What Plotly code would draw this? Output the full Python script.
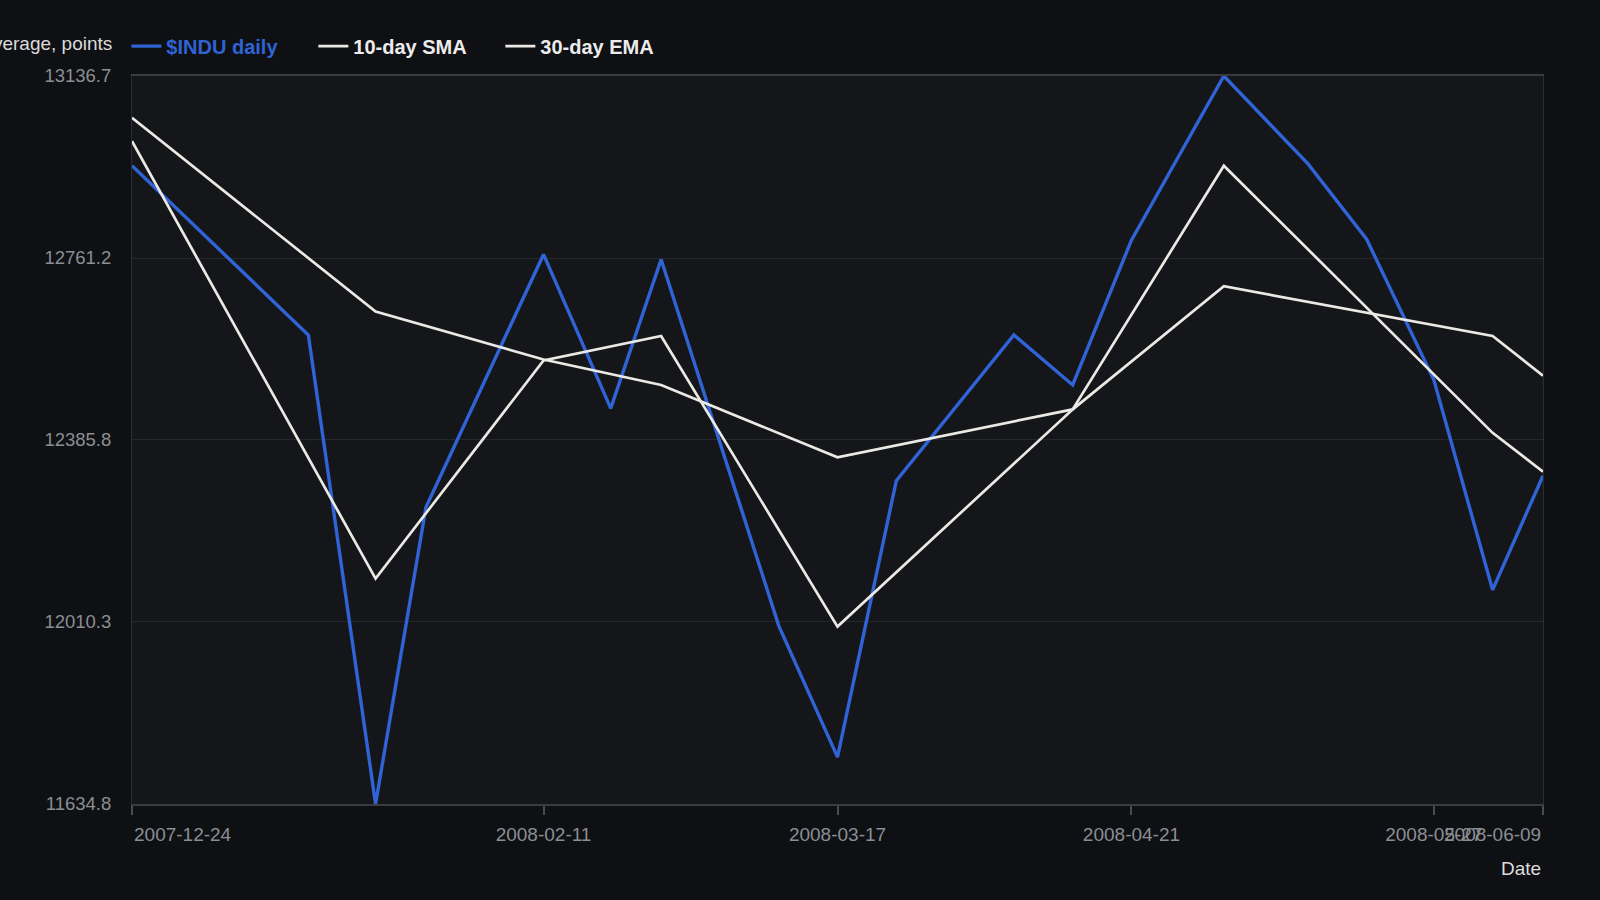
import plotly.graph_objects as go

# weekly-ish closes of the Dow
dates_daily = ["2007-12-24", "2008-01-14", "2008-01-22", "2008-01-28", "2008-02-11",
               "2008-02-19", "2008-02-25", "2008-03-10", "2008-03-17", "2008-03-24",
               "2008-04-07", "2008-04-14", "2008-04-21", "2008-05-02", "2008-05-12",
               "2008-05-19", "2008-05-27", "2008-06-03", "2008-06-09"]
indu_daily = [12951.6, 12602.4, 11634.8, 12246.9, 12768.6,
              12451.0, 12758.1, 12002.9, 11731.6, 12301.6,
              12602.4, 12499.3, 12798.0, 13136.7, 12955.8,
              12800.1, 12509.8, 12076.5, 12312.1]

# moving averages, sampled on fewer dates
dates_avg = ["2007-12-24", "2008-01-22", "2008-02-11", "2008-02-25", "2008-03-17",
             "2008-04-14", "2008-05-02", "2008-06-03", "2008-06-09"]
sma_10 = [13002.1, 12099.7, 12549.8, 12600.3, 12000.8, 12448.9, 12951.6, 12400.5, 12320.5]
ema_30 = [13050.4, 12650.8, 12551.9, 12499.3, 12350.0, 12448.9, 12703.0, 12600.3, 12518.3]

y_ticks = [11634.8, 12010.3, 12385.8, 12761.2, 13136.7]
x_ticks = ["2007-12-24", "2008-02-11", "2008-03-17", "2008-04-21", "2008-05-27", "2008-06-09"]

BLUE = "#2f63d6"
WHITE = "#ebe9e3"
FONT = "Liberation Sans"
TICK_GREY = "#8b8e94"

fig = go.Figure()
fig.add_trace(go.Scatter(x=dates_daily, y=indu_daily, mode="lines",
                         name="<span style='color:%s'><b>$INDU daily</b></span>" % BLUE,
                         line=dict(color=BLUE, width=3.4)))
fig.add_trace(go.Scatter(x=dates_avg, y=sma_10, mode="lines", name="<b>10-day SMA</b>",
                         line=dict(color=WHITE, width=2.7)))
fig.add_trace(go.Scatter(x=dates_avg, y=ema_30, mode="lines", name="<b>30-day EMA</b>",
                         line=dict(color=WHITE, width=2.7)))

# end labels are nudged inside the plot, middle ones come from the axis
tick_text = [""] + x_ticks[1:-1] + [""]
annos = [
    dict(x=x_ticks[0], xref="x", y=0, yref="paper", yanchor="middle", yshift=-30,
         xanchor="left", text=x_ticks[0], showarrow=False,
         font=dict(family=FONT, size=19, color=TICK_GREY)),
    dict(x=x_ticks[-1], xref="x", y=0, yref="paper", yanchor="middle", yshift=-30,
         xanchor="right", text=x_ticks[-1], showarrow=False,
         font=dict(family=FONT, size=19, color=TICK_GREY)),
    dict(x=x_ticks[-1], xref="x", y=0, yref="paper", yanchor="middle", yshift=-64,
         xanchor="right", text="Date", showarrow=False,
         font=dict(family=FONT, size=19, color="#dcdcdc")),
    dict(x=-0.0127, xref="paper", y=1.044, yref="paper", yanchor="middle",
         xanchor="right", text="Dow Jones Industrial Average, points", showarrow=False,
         font=dict(family=FONT, size=19, color="#dcdcdc")),
]

fig.update_layout(
    width=1600, height=900,
    margin=dict(l=132, r=57, t=76, b=96),
    paper_bgcolor="#0f1013",
    plot_bgcolor="#15161a",
    font=dict(family=FONT, size=18, color=TICK_GREY),
    showlegend=True,
    legend=dict(orientation="h", x=-0.004, xanchor="left", y=1.041, yanchor="middle",
                font=dict(family=FONT, size=20, color="#ececec"),
                bgcolor="rgba(0,0,0,0)", itemwidth=30, tracegroupgap=0,
                entrywidth=142, entrywidthmode="pixels"),
    annotations=annos,
)
fig.update_xaxes(
    type="date", range=[x_ticks[0], x_ticks[-1]],
    tickvals=x_ticks, ticktext=tick_text,
    showgrid=False, zeroline=False,
    showline=True, linecolor="#3a3b40", linewidth=1.5, mirror=True,
    ticks="outside", ticklen=9, tickcolor="#4a4b50", tickwidth=1.5,
    ticklabelstandoff=3,
    tickfont=dict(family=FONT, size=19, color=TICK_GREY),
)
fig.update_yaxes(
    range=[y_ticks[0], y_ticks[-1]],
    tickvals=y_ticks, ticktext=["%.1f" % v for v in y_ticks],
    showgrid=True, gridcolor="#26272c", gridwidth=1, zeroline=False,
    showline=True, linecolor="#2c2d32", linewidth=1, mirror=True,
    ticks="", ticklabelstandoff=16,
    tickfont=dict(family=FONT, size=18.5, color=TICK_GREY),
)

# page margin off so the dark figure fills the window
fig.write_html("out.html", config={"displayModeBar": False},
               post_script="document.body.style.margin='0';"
                           "document.body.style.background='#0f1013';")
